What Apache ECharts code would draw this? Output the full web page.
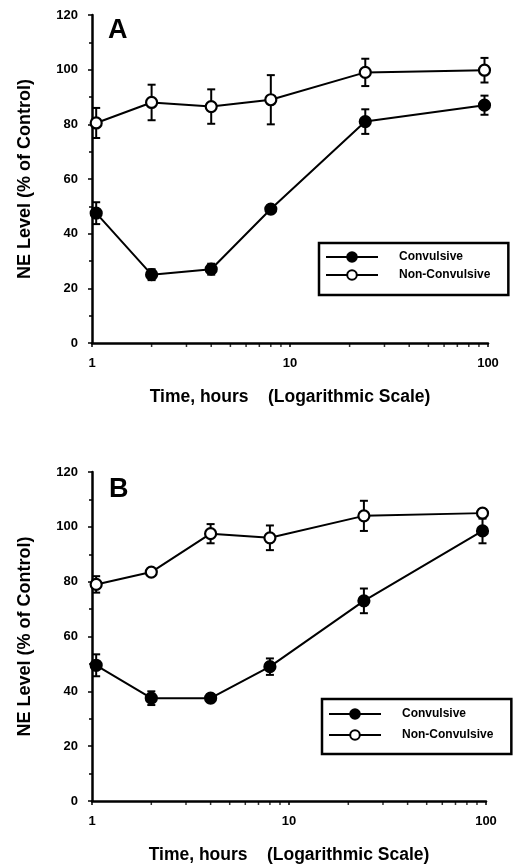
<!DOCTYPE html>
<html>
<head>
<meta charset="utf-8">
<script src="https://cdn.jsdelivr.net/npm/echarts@6/dist/echarts.min.js"></script>
<style>
html,body{margin:0;padding:0;background:#fff;}
#chart{width:514px;height:866px;}
</style>
</head>
<body>
<div id="chart"></div>
<script>
// ---- Data ----
const hours = [1.05, 2, 4, 8, 24, 96];
const xTickLabels = ['1', '10', '100'];
const minorHours = [2, 3, 4, 5, 6, 7, 8, 9, 20, 30, 40, 50, 60, 70, 80, 90];

const convA = [47.5, 25, 27, 49, 81, 87];
const convAErr = [4, 2, 2, 1.5, 4.5, 3.5];
const nonA = [80.5, 88, 86.5, 89, 99, 99.8];
const nonAErr = [5.5, 6.5, 6.3, 9, 5, 4.5];

const convB = [49.5, 37.5, 37.5, 49, 73, 98.5];
const convBErr = [4, 2.5, 1.5, 3, 4.5, 4.5];
const nonB = [79, 83.5, 97.5, 96, 104, 105];
const nonBErr = [3, 1, 3.5, 4.5, 5.5, 1.5];

const panelLabels = ['A', 'B'];
const seriesNames = ['Convulsive', 'Non-Convulsive'];
const yName = 'NE Level (% of Control)';
const xName = 'Time, hours    (Logarithmic Scale)';

// ---- Build ----
const FONT = "'Liberation Sans', Arial, sans-serif";
const pts = (vals) => hours.map((h, i) => [h, vals[i]]);
const errs = (vals, e) => hours.map((h, i) => [h, vals[i] - e[i], vals[i] + e[i]]);

function errorSeries(idx, vals, e) {
  return {
    type: 'custom', xAxisIndex: idx, yAxisIndex: idx, z: 1, silent: true,
    data: errs(vals, e),
    renderItem: function (params, api) {
      const x = api.value(0);
      const lo = api.coord([x, api.value(1)]);
      const hi = api.coord([x, api.value(2)]);
      const w = 4;
      const style = { stroke: '#000', lineWidth: 2 };
      return {
        type: 'group',
        children: [
          { type: 'line', shape: { x1: lo[0], y1: lo[1], x2: hi[0], y2: hi[1] }, style: style },
          { type: 'line', shape: { x1: lo[0] - w, y1: lo[1], x2: lo[0] + w, y2: lo[1] }, style: style },
          { type: 'line', shape: { x1: hi[0] - w, y1: hi[1], x2: hi[0] + w, y2: hi[1] }, style: style }
        ]
      };
    }
  };
}

function lineSeries(idx, name, vals, filled) {
  return {
    type: 'line', name: name, xAxisIndex: idx, yAxisIndex: idx, z: 3,
    data: pts(vals),
    symbol: 'circle', symbolSize: 11,
    lineStyle: { color: '#000', width: 2 },
    itemStyle: { color: filled ? '#000' : '#fff', borderColor: '#000', borderWidth: 2.2 },
    emphasis: { disabled: true },
    animation: false
  };
}

function minorTickSeries(idx) {
  return {
    type: 'scatter', xAxisIndex: idx, yAxisIndex: idx, silent: true, z: 2,
    data: minorHours.map(h => [h, 0]),
    symbol: 'rect', symbolSize: [1.5, 4], symbolOffset: [0, 2],
    itemStyle: { color: '#000' }, animation: false
  };
}

const grids = [
  { left: 92, top: 15, width: 396, height: 328 },
  { left: 92, top: 472, width: 394, height: 329 }
];

function xAxis(idx) {
  return {
    type: 'log', logBase: 10, gridIndex: idx, min: 1, max: 100,
    name: xName, nameLocation: 'middle', nameGap: 45,
    nameTextStyle: { fontFamily: FONT, fontWeight: 'bold', fontSize: 17.5, color: '#000' },
    axisLine: { lineStyle: { color: '#000', width: 2.5 } },
    axisTick: { show: true, length: 4, lineStyle: { color: '#000', width: 1.5 } },
    axisLabel: {
      fontFamily: FONT, fontWeight: 'bold', fontSize: 13, color: '#000', margin: 14,
      formatter: v => xTickLabels.includes(String(v)) ? String(v) : ''
    },
    splitLine: { show: false }
  };
}

function yAxis(idx) {
  return {
    type: 'value', gridIndex: idx, min: 0, max: 120, interval: 20,
    name: yName, nameLocation: 'middle', nameGap: 58, nameRotate: 90,
    nameTextStyle: { fontFamily: FONT, fontWeight: 'bold', fontSize: 18, color: '#000' },
    axisLine: { show: true, lineStyle: { color: '#000', width: 2.5 } },
    axisTick: { show: true, length: 4, lineStyle: { color: '#000', width: 1.5 } },
    minorTick: { show: true, splitNumber: 2, length: 3, lineStyle: { color: '#000', width: 1.5 } },
    axisLabel: { fontFamily: FONT, fontWeight: 'bold', fontSize: 13, color: '#000', margin: 14 },
    splitLine: { show: false }
  };
}

function legend(left, top, gap, padding) {
  return {
    data: seriesNames, orient: 'vertical', left: left, top: top,
    itemWidth: 52, itemHeight: 12, itemGap: gap,
    padding: padding,
    borderColor: '#000', borderWidth: 2.5, backgroundColor: '#fff',
    selectedMode: false,
    textStyle: { fontFamily: FONT, fontWeight: 'bold', fontSize: 12, lineHeight: 12, color: '#000', padding: [0, 0, 0, 16] }
  };
}

const chart = echarts.init(document.getElementById('chart'), null, { renderer: 'canvas' });
chart.setOption({
  backgroundColor: '#fff',
  animation: false,
  title: [
    { text: panelLabels[0], left: 103, top: 12, textStyle: { fontFamily: FONT, fontWeight: 'bold', fontSize: 27, color: '#000' } },
    { text: panelLabels[1], left: 104, top: 471, textStyle: { fontFamily: FONT, fontWeight: 'bold', fontSize: 27, color: '#000' } }
  ],
  legend: [legend(319, 243, 6, [8, 18, 14, 6]), legend(322, 699, 9, [9, 18, 13, 6])],
  grid: grids,
  xAxis: [xAxis(0), xAxis(1)],
  yAxis: [yAxis(0), yAxis(1)],
  series: [
    errorSeries(0, convA, convAErr),
    errorSeries(0, nonA, nonAErr),
    lineSeries(0, seriesNames[0], convA, true),
    lineSeries(0, seriesNames[1], nonA, false),
    minorTickSeries(0),
    errorSeries(1, convB, convBErr),
    errorSeries(1, nonB, nonBErr),
    lineSeries(1, seriesNames[0], convB, true),
    lineSeries(1, seriesNames[1], nonB, false),
    minorTickSeries(1)
  ]
});
</script>
</body>
</html>
